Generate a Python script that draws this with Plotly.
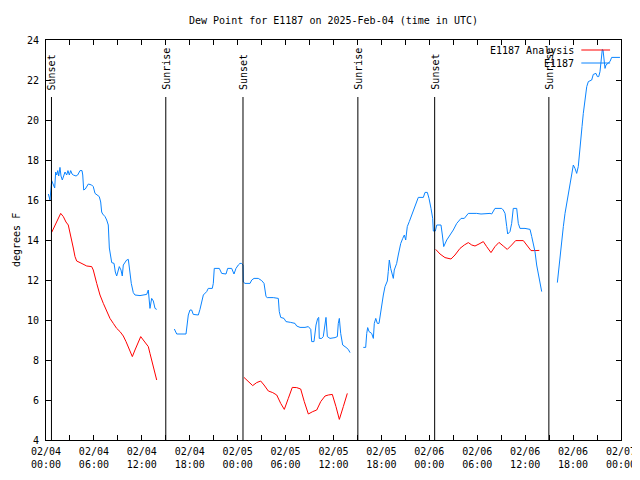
import pandas as pd
import plotly.graph_objects as go

BASE = pd.Timestamp("2025-02-04 00:00")
TITLE = "Dew Point for E1187 on 2025-Feb-04 (time in UTC)"

# hours since 2025-02-04 00:00 UTC ; None = gap
obs_hours = [
    0.29, 0.5, 0.71, 0.91, 1.09, 1.21, 1.34, 1.47, 1.59, 1.75, 1.88, 2.04, 2.17, 2.38, 2.59, 2.75, 2.92,
    3.09, 3.26, 3.42, 3.76, 3.97, 4.26, 4.51, 4.6, 4.72, 4.92, 5.1, 5.3, 5.72, 5.92, 6.14, 6.42, 6.67,
    6.85, 6.97, 7.1, 7.39, 7.6, 7.8, 7.93, 8.1, 8.23, 8.52, 8.68, 8.85, 9.02, 9.18, 9.39, 9.55, 9.68,
    9.89, 10.1, 10.31, 10.52, 10.68, 10.93, 11.14, 11.77, 12.18, 12.61, 12.81, 13.02, 13.23, 13.44,
    13.65, 13.86, None,
    16.07, 16.37, 17.53, 17.69, 17.82, 18.03, 18.24, 18.44, 19.07, 19.28, 19.5, 19.7, 20.12, 20.32,
    20.82, 20.95, 21.07, 21.7, 22.0, 22.54, 22.75, 23.25, 23.54, 23.79, 24.08, 24.29, 24.5, 24.67,
    24.71, 24.92, 25.55, 25.76, 26.05, 26.58, 27.01, 27.3, 27.55, 27.71, 28.46, 29.09, 29.21, 29.39,
    29.8, 30.05, 30.64, 31.18, 31.39, 31.81, 32.43, 32.85, 33.15, 33.27, 33.56, 33.81, 34.02, 34.15,
    34.22, 34.52, 34.72, 34.94, 35.06, 35.23, 35.56, 36.19, 36.48, 36.6, 36.73, 36.9, 37.15, 37.57,
    37.85, 38.07, None,
    39.73, 40.03, 40.16, 40.28, 40.45, 40.78, 40.99, 41.11, 41.29, 41.49, 41.7, 41.95, 42.24, 42.45,
    42.74, 42.86, 42.99, 43.16, 43.36, 43.49, 43.61, 43.91, 44.11, 44.42, 44.67, 44.87, 45.04, 45.24,
    45.49, 45.79, 46.08, 46.42, 46.62, 47.25, 47.46, 47.75, 47.96, 48.21, 48.42, 48.5, 48.75, 48.93,
    49.46, 49.63, 49.8, 50.18, 50.59, 51.0, 51.43, 51.97, 52.38, 52.88, 53.93, 54.47, 55.6, 55.81,
    56.22, 57.06, 57.26, 57.48, 57.69, 57.81, 58.1, 58.31, 58.51, 58.94, 59.14, 59.35, 59.98, 60.61,
    60.82, 61.02, 61.23, 61.44, 61.65, 61.86, 62.07, None,
    64.03, 64.15, 64.36, 64.57, 64.78, 64.99, 65.2, 65.4, 65.61, 65.83, 66.03, 66.24, 66.45, 66.65,
    66.78, 66.95, 67.12, 67.28, 67.49, 67.71, 67.91, 68.33, 68.53, 68.87, 69.04, 69.21, 69.37, 69.54,
    69.66, 69.75, 69.87, 70.0, 70.12, 70.41, 70.62, 70.83, 71.87,
]
obs_dewpoint = [
    16.3, 16.0, 16.97, 16.8, 16.6, 17.4, 17.25, 17.47, 17.2, 17.63, 17.2, 17.0, 17.15, 17.4, 17.25, 17.47, 17.25,
    17.47, 17.3, 17.25, 17.2, 17.25, 17.47, 17.47, 17.25, 16.5, 16.55, 16.67, 16.8, 16.75, 16.67, 16.33, 16.25, 16.17,
    15.9, 15.4, 15.3, 15.17, 15.0, 14.75, 13.6, 13.1, 12.87, 12.83, 12.4, 12.2, 12.4, 12.67, 12.5, 12.2, 12.75,
    12.85, 13.0, 13.03, 12.3, 11.83, 11.37, 11.25, 11.22, 11.25, 11.28, 11.5, 10.58, 11.08, 10.95,
    10.58, 10.53, None,
    9.55, 9.3, 9.3, 9.92, 10.25, 10.5, 10.5, 10.28, 10.25, 10.53, 11.0, 11.25, 11.42, 11.58,
    11.58, 11.83, 12.58, 12.58, 12.33, 12.3, 12.58, 12.58, 12.3, 12.58, 12.75, 12.83, 12.83, 12.75,
    11.9, 11.83, 11.83, 12.0, 12.08, 12.08, 11.97, 11.83, 11.17, 11.12, 11.12, 11.08, 10.42, 10.13,
    10.08, 9.92, 9.88, 9.83, 9.7, 9.63, 9.63, 9.67, 9.53, 8.92, 8.92, 9.75, 10.08, 10.13,
    9.08, 9.08, 9.17, 9.83, 10.13, 9.17, 9.08, 9.12, 9.17, 9.83, 10.08, 9.33, 8.75, 8.63,
    8.53, 8.37, None,
    8.63, 8.63, 9.33, 9.62, 9.42, 9.33, 9.08, 9.83, 10.08, 9.83, 9.83, 10.58, 11.25, 11.67,
    11.95, 12.42, 13.0, 12.58, 12.25, 12.08, 12.5, 12.83, 13.25, 13.83, 14.08, 14.25, 14.0, 14.67,
    14.92, 15.25, 15.58, 16.0, 16.13, 16.13, 16.38, 16.38, 16.08, 15.58, 15.08, 14.45, 14.45, 14.75,
    14.75, 14.25, 13.67, 14.0, 14.25, 14.5, 14.83, 15.08, 15.08, 15.33, 15.33, 15.3, 15.33, 15.3,
    15.58, 15.58, 15.5, 15.33, 14.67, 14.3, 14.42, 14.83, 15.58, 15.58, 14.83, 14.58, 14.58, 14.53,
    14.17, 13.75, 13.42, 12.75, 12.33, 12.0, 11.42, None,
    11.87, 12.33, 13.33, 14.0, 14.67, 15.33, 15.83, 16.33, 16.83, 17.33, 17.75, 17.58, 17.33, 17.67,
    18.33, 19.0, 19.67, 20.33, 21.0, 21.67, 21.92, 22.0, 22.28, 22.33, 22.17, 22.17, 22.42, 23.17,
    23.53, 23.5, 23.0, 22.58, 22.75, 22.83, 22.92, 23.13, 23.13,
]

ana_hours = [
    0.71, 1.13, 1.54, 1.84, 2.17, 2.5, 2.79, 3.0, 3.22, 3.42, 3.63, 3.84, 4.26, 4.67, 5.1, 5.72, 5.92,
    6.35, 6.76, 7.18, 7.6, 8.01, 8.43, 8.85, 9.27, 9.68, 10.02, 10.43, 10.81, 11.14, 11.48, 11.86,
    12.18, 12.52, 12.81, 13.02, 13.31, 13.65, 13.86, None,
    24.79, 25.33, 25.88, 26.38, 26.88, 27.3, 27.84, 28.39, 28.89, 29.39, 29.84, 30.34, 30.84, 31.39,
    31.89, 32.34, 32.85, 33.4, 33.9, 34.4, 34.94, 35.35, 35.85, 36.31, 36.73, 37.23, 37.73, None,
    48.8, 49.34, 49.96, 50.71, 51.21, 51.84, 52.38, 52.88, 53.31, 53.72, 54.22, 54.76, 55.18, 55.72,
    56.22, 56.72, 57.26, 57.76, 58.31, 58.81, 59.77, 60.19, 60.73, 61.23, 61.77,
]
ana_dewpoint = [
    14.38, 14.75, 15.1, 15.33, 15.17, 14.9, 14.75, 14.4, 14.0, 13.6, 13.17, 12.95, 12.87, 12.78, 12.7, 12.67, 12.5,
    11.83, 11.25, 10.83, 10.42, 10.08, 9.83, 9.58, 9.42, 9.2, 8.92, 8.5, 8.17, 8.5, 8.83, 9.17,
    9.0, 8.83, 8.67, 8.33, 7.83, 7.33, 7.0, None,
    7.13, 6.92, 6.72, 6.87, 6.95, 6.75, 6.45, 6.37, 6.25, 5.83, 5.53, 6.08, 6.63, 6.62,
    6.55, 5.92, 5.3, 5.42, 5.5, 5.92, 6.2, 6.25, 6.28, 5.67, 5.03, 5.67, 6.33, None,
    13.53, 13.3, 13.12, 13.05, 13.25, 13.58, 13.75, 13.87, 13.75, 13.7, 13.8, 13.92, 13.67, 13.37,
    13.67, 13.88, 13.7, 13.53, 13.75, 13.97, 13.97, 13.75, 13.47, 13.47, 13.48,
]

sun_labels = ["Sunset", "Sunrise", "Sunset", "Sunrise", "Sunset", "Sunrise"]
sun_times = ["2025-02-04 00:41", "2025-02-04 15:00", "2025-02-05 00:40",
             "2025-02-05 15:03", "2025-02-06 00:40", "2025-02-06 14:58"]

legend_names = ["E1187 Analysis", "E1187"]
RED = "#ff0000"
BLUE = "#0a84ff"
FONT = "DejaVu Sans Mono"

# the page adds an 8px body margin, so the figure is 8px smaller and offset
FIG_W, FIG_H = 632, 472


def to_time(hours):
    return [None if h is None else BASE + pd.Timedelta(hours=h) for h in hours]


fig = go.Figure()
fig.add_trace(go.Scatter(x=to_time(ana_hours), y=ana_dewpoint, mode="lines",
                         line=dict(color=RED, width=1), name=legend_names[0],
                         connectgaps=False, showlegend=False))
fig.add_trace(go.Scatter(x=to_time(obs_hours), y=obs_dewpoint, mode="lines",
                         line=dict(color=BLUE, width=1), name=legend_names[1],
                         connectgaps=False, showlegend=False))

# sunrise / sunset markers
for lab, t in zip(sun_labels, sun_times):
    fig.add_shape(type="line", xref="x", yref="paper", x0=t, x1=t, y0=0, y1=0.8575,
                  line=dict(color="black", width=1))
    fig.add_annotation(x=t, xref="x", y=0.87, yref="paper", text=lab, textangle=-90,
                       showarrow=False, xanchor="center", yanchor="bottom",
                       font=dict(family=FONT, size=10, color="black"))

# gnuplot-style legend (text right, sample line to its right)
leg_y = [0.975, 0.9425]
for name, col, yy in zip(legend_names, [RED, BLUE], leg_y):
    fig.add_annotation(x=0.922, xref="paper", y=yy, yref="paper", text=name,
                       showarrow=False, xanchor="right", yanchor="middle",
                       font=dict(family=FONT, size=10, color="black"))
    fig.add_shape(type="line", xref="paper", yref="paper", x0=0.931, x1=0.981,
                  y0=yy, y1=yy, line=dict(color=col, width=1))

fig.add_annotation(x=-30 / 575, xref="paper", y=0.5, yref="paper", text="degrees F",
                   textangle=-90, showarrow=False, xanchor="center", yanchor="middle",
                   font=dict(family=FONT, size=10, color="black"))

fig.update_layout(
    width=FIG_W, height=FIG_H,
    margin=dict(l=38, r=19, t=32, b=40, autoexpand=False),
    paper_bgcolor="white", plot_bgcolor="white",
    font=dict(family=FONT, size=10, color="black"),
    title=dict(text=TITLE, x=(325.5 / FIG_W), xanchor="center", y=1 - 12 / FIG_H, yanchor="middle",
               font=dict(family=FONT, size=10, color="black")),
    showlegend=False,
)
fig.update_xaxes(
    range=["2025-02-04 00:00", "2025-02-07 00:00"],
    type="date", dtick=6 * 3600 * 1000, tick0="2025-02-04 00:00",
    tickformat="%m/%d<br>%H:%M",
    ticks="inside", ticklen=5, tickcolor="black", tickwidth=1,
    minor=dict(dtick=3 * 3600 * 1000, ticks="inside", ticklen=5, tickcolor="black"),
    showline=True, linecolor="black", linewidth=1, mirror="ticks",
    showgrid=False, zeroline=False, automargin=False,
    tickfont=dict(family=FONT, size=10, color="black"),
    ticklabelstandoff=2,
)
fig.update_yaxes(
    range=[4, 24], dtick=2, tick0=4,
    ticks="inside", ticklen=5, tickcolor="black", tickwidth=1,
    showline=True, linecolor="black", linewidth=1, mirror="ticks",
    showgrid=False, zeroline=False, automargin=False,
    tickfont=dict(family=FONT, size=10, color="black"),
    ticklabelstandoff=4,
)

fig.write_html("out.html")
